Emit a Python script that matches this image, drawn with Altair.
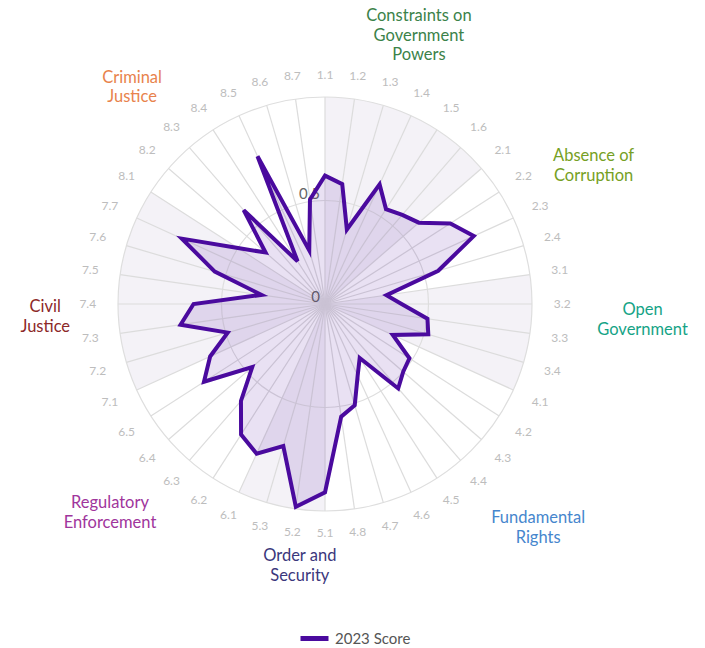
import math
import altair as alt
import pandas as pd

# ---------------- data ----------------
spoke_labels = [
    "1.1", "1.2", "1.3", "1.4", "1.5", "1.6",
    "2.1", "2.2", "2.3", "2.4",
    "3.1", "3.2", "3.3", "3.4",
    "4.1", "4.2", "4.3", "4.4", "4.5", "4.6", "4.7", "4.8",
    "5.1", "5.2", "5.3",
    "6.1", "6.2", "6.3", "6.4", "6.5",
    "7.1", "7.2", "7.3", "7.4", "7.5", "7.6", "7.7",
    "8.1", "8.2", "8.3", "8.4", "8.5", "8.6", "8.7",
]
scores_2023 = [
    0.62, 0.585, 0.375, 0.635, 0.545, 0.57,
    0.60, 0.72, 0.79, 0.57,
    0.30, 0.37, 0.50, 0.52,
    0.36, 0.485, 0.50, 0.54, 0.31, 0.38, 0.51, 0.55,
    0.91, 0.99, 0.715,
    0.795, 0.75, 0.62, 0.465, 0.695,
    0.61, 0.49, 0.705, 0.635, 0.31, 0.555, 0.76,
    0.50, 0.38, 0.60, 0.245, 0.785, 0.27, 0.51,
]
series_name = "2023 Score"

group_names = [
    "Constraints on\nGovernment\nPowers",
    "Absence of\nCorruption",
    "Open\nGovernment",
    "Fundamental\nRights",
    "Order and\nSecurity",
    "Regulatory\nEnforcement",
    "Civil\nJustice",
    "Criminal\nJustice",
]
group_colors = [
    "#3b8249", "#76a024", "#15a386", "#4686cd",
    "#3b377c", "#a0359c", "#8c2828", "#e8834c",
]
grid_levels = [0.5, 1.0]
tick_levels = [0, 0.5]

# ------------- layout (annotation placement, not data) -------------
group_label_angle = [19.3, 62.8, 92.9, 136.4, 185.5, 225.8, 267.3, 318.3]
group_label_radius = [1.372, 1.459, 1.536, 1.493, 1.271, 1.449, 1.353, 1.401]

N = len(spoke_labels)
R_PX = 207
W, H = 634, 590
XD = W / 2 / R_PX
YD = H / 2 / R_PX
PURPLE = "#4a0a9e"
LINE_H = 19.5

# ------------- tables -------------
df = pd.DataFrame({
    "idx": list(range(N)),
    "label": spoke_labels,
    "value": scores_2023,
    "series": [series_name] * N,
})

grp = [l.split(".")[0] for l in spoke_labels]
starts = [i for i in range(N) if i == 0 or grp[i] != grp[i - 1]]
ends = starts[1:] + [N]
wedge_df = pd.DataFrame({
    "start": starts,
    "end": ends,
    "g": [int(grp[s]) for s in starts],
    "r": [1.0] * len(starts),
})
wedge_df = wedge_df[wedge_df["g"] % 2 == 1].reset_index(drop=True)

circle_df = pd.DataFrame({"r": grid_levels, "start": [0] * len(grid_levels), "end": [N] * len(grid_levels)})
tick_df = pd.DataFrame({"v": tick_levels, "z": [0] * len(tick_levels)})
glabel_df = pd.DataFrame({
    "name": group_names,
    "color": group_colors,
    "ang": group_label_angle,
    "rad": group_label_radius,
    "nl": [n.count("\n") + 1 for n in group_names],
})

xs = alt.Scale(domain=[-XD, XD], nice=False, zero=False)
ys = alt.Scale(domain=[-YD, YD], nice=False, zero=False)
theta_scale = alt.Scale(domain=[0, N], range=[0, 2 * math.pi])
rad_scale = alt.Scale(type="linear", domain=[0, 1], range=[0, R_PX], zero=True)

theta_expr = f"datum.idx * 2 * PI / {N}"

wedges = alt.Chart(wedge_df).mark_arc(fill="#f4f2f7").encode(
    theta=alt.Theta("start:Q", scale=theta_scale, stack=None),
    theta2="end:Q",
    radius=alt.Radius("r:Q", scale=rad_scale),
)

circles = alt.Chart(circle_df).mark_arc(fillOpacity=0, stroke="#dedede", strokeWidth=1.2).encode(
    theta=alt.Theta("start:Q", scale=theta_scale, stack=None),
    theta2="end:Q",
    radius=alt.Radius("r:Q", scale=rad_scale),
)

spokes = alt.Chart(df).transform_calculate(
    ox="0", oy="0", ex=f"sin({theta_expr})", ey=f"cos({theta_expr})"
).mark_rule(color="#dcdcdc", strokeWidth=1.2).encode(
    x=alt.X("ox:Q", scale=xs, axis=None),
    y=alt.Y("oy:Q", scale=ys, axis=None),
    x2="ex:Q",
    y2="ey:Q",
)

spoke_text = alt.Chart(df).transform_calculate(
    lr=f"1.106 + 0.04 * abs(sin({theta_expr}))"
).transform_calculate(
    lx=f"datum.lr * sin({theta_expr})", ly=f"datum.lr * cos({theta_expr})"
).mark_text(color="#bdbdbd", fontSize=12, font="Lato", align="center", baseline="middle").encode(
    x=alt.X("lx:Q", scale=xs, axis=None),
    y=alt.Y("ly:Q", scale=ys, axis=None),
    text="label:N",
)

ticks = alt.Chart(tick_df).mark_text(
    color="#666666", fontSize=15, font="Lato", align="right", baseline="middle", dx=-5, dy=-7
).encode(
    x=alt.X("z:Q", scale=xs, axis=None),
    y=alt.Y("v:Q", scale=ys, axis=None),
    text=alt.Text("v:Q"),
)

polygon = alt.Chart(df).transform_calculate(
    px=f"datum.value * sin({theta_expr})", py=f"datum.value * cos({theta_expr})"
).mark_line(
    interpolate="linear-closed", fill=PURPLE, fillOpacity=0.12, strokeWidth=4, strokeJoin="miter"
).encode(
    x=alt.X("px:Q", scale=xs, axis=None),
    y=alt.Y("py:Q", scale=ys, axis=None),
    order="idx:Q",
    color=alt.Color(
        "series:N",
        scale=alt.Scale(range=[PURPLE]),
        legend=alt.Legend(
            orient="none", legendX=290, legendY=613, title=None,
            symbolType="stroke", symbolSize=784, symbolStrokeWidth=5,
            labelFontSize=15, labelColor="#555555", labelFont="Lato", labelOffset=4,
        ),
    ),
)

group_text = alt.Chart(glabel_df).transform_calculate(
    gx="datum.rad * sin(datum.ang * PI / 180)",
    gy=f"datum.rad * cos(datum.ang * PI / 180) + (datum.nl - 1) / 2 * {LINE_H / R_PX}",
).mark_text(fontSize=16.5, font="Lato", align="center", baseline="middle", lineBreak="\n", lineHeight=LINE_H).encode(
    x=alt.X("gx:Q", scale=xs, axis=None),
    y=alt.Y("gy:Q", scale=ys, axis=None),
    text="name:N",
    fill=alt.Fill("color:N", scale=None, legend=None),
)

chart = alt.layer(
    wedges, circles, spokes, spoke_text, ticks, polygon, group_text
).properties(
    width=W, height=H, padding=0
).configure(font="Lato").configure_view(stroke=None)

chart.save("out.html", embed_options={"renderer": "svg", "actions": False})
